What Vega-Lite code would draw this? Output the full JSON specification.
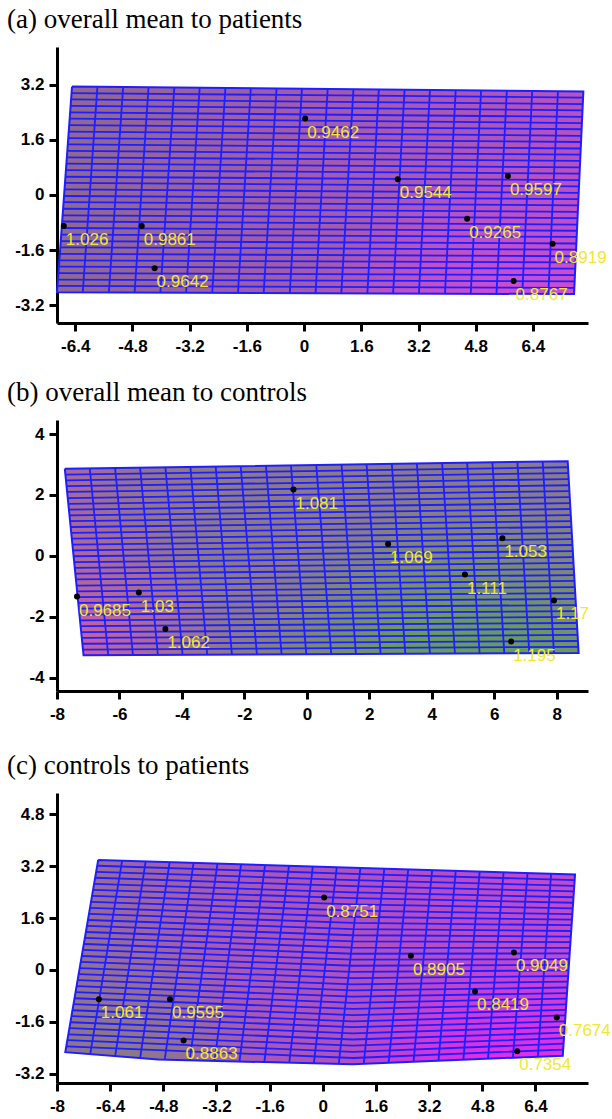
{
  "$schema": "https://vega.github.io/schema/vega-lite/v6.json",
  "padding": {"left": 7, "top": 6, "right": 0, "bottom": 0},
  "background": "white",
  "config": {
    "view": {"stroke": null},
    "axis": {"domainColor": "black", "domainWidth": 3, "tickColor": "black", "tickWidth": 3, "tickSize": 8, "labelFont": "Liberation Sans", "labelFontWeight": "bold", "labelFontSize": 17, "labelColor": "black", "grid": false, "labelPadding": 5, "labelOverlap": false, "labelFlush": false, "labelBound": false},
    "axisX": {"labelPadding": 7},
    "title": {"font": "Liberation Serif", "fontSize": 27, "fontWeight": "normal", "color": "black", "anchor": "start", "frame": "group", "dx": -50, "offset": 13, "baseline": "alphabetic"}
  },
  "datasets": {
    "a_out": [
      {"x": -6.49, "y": 3.15, "o": 0}, {"x": 7.81, "y": 3.01, "o": 1}, {"x": 7.55, "y": -2.88, "o": 2}, {"x": -6.91, "y": -2.83, "o": 3}, {"x": -6.49, "y": 3.15, "o": 4}
    ],
    "a_v": [
      {"x": -5.78, "y": 3.14, "x2": -6.19, "y2": -2.83}, {"x": -5.06, "y": 3.14, "x2": -5.46, "y2": -2.84}, {"x": -4.35, "y": 3.13, "x2": -4.74, "y2": -2.84}, {"x": -3.63, "y": 3.12, "x2": -4.02, "y2": -2.84}, {"x": -2.92, "y": 3.12, "x2": -3.30, "y2": -2.84}, {"x": -2.20, "y": 3.11, "x2": -2.57, "y2": -2.85}, {"x": -1.49, "y": 3.10, "x2": -1.85, "y2": -2.85}, {"x": -0.77, "y": 3.09, "x2": -1.13, "y2": -2.85}, {"x": -0.06, "y": 3.09, "x2": -0.40, "y2": -2.85}, {"x": 0.66, "y": 3.08, "x2": 0.32, "y2": -2.86}, {"x": 1.38, "y": 3.07, "x2": 1.04, "y2": -2.86}, {"x": 2.09, "y": 3.07, "x2": 1.77, "y2": -2.86}, {"x": 2.81, "y": 3.06, "x2": 2.49, "y2": -2.86}, {"x": 3.52, "y": 3.05, "x2": 3.21, "y2": -2.87}, {"x": 4.24, "y": 3.05, "x2": 3.94, "y2": -2.87}, {"x": 4.95, "y": 3.04, "x2": 4.66, "y2": -2.87}, {"x": 5.67, "y": 3.03, "x2": 5.38, "y2": -2.87}, {"x": 6.38, "y": 3.02, "x2": 6.10, "y2": -2.88}, {"x": 7.10, "y": 3.02, "x2": 6.83, "y2": -2.88}
    ],
    "a_h": [
      {"x": -6.50, "y": 2.96, "x2": 7.80, "y2": 2.83}, {"x": -6.52, "y": 2.78, "x2": 7.79, "y2": 2.64}, {"x": -6.53, "y": 2.59, "x2": 7.79, "y2": 2.46}, {"x": -6.54, "y": 2.40, "x2": 7.78, "y2": 2.27}, {"x": -6.56, "y": 2.22, "x2": 7.77, "y2": 2.09}, {"x": -6.57, "y": 2.03, "x2": 7.76, "y2": 1.91}, {"x": -6.58, "y": 1.84, "x2": 7.75, "y2": 1.72}, {"x": -6.60, "y": 1.65, "x2": 7.75, "y2": 1.54}, {"x": -6.61, "y": 1.47, "x2": 7.74, "y2": 1.35}, {"x": -6.62, "y": 1.28, "x2": 7.73, "y2": 1.17}, {"x": -6.63, "y": 1.09, "x2": 7.72, "y2": 0.99}, {"x": -6.65, "y": 0.91, "x2": 7.71, "y2": 0.80}, {"x": -6.66, "y": 0.72, "x2": 7.70, "y2": 0.62}, {"x": -6.67, "y": 0.53, "x2": 7.70, "y2": 0.43}, {"x": -6.69, "y": 0.35, "x2": 7.69, "y2": 0.25}, {"x": -6.70, "y": 0.16, "x2": 7.68, "y2": 0.06}, {"x": -6.71, "y": -0.03, "x2": 7.67, "y2": -0.12}, {"x": -6.73, "y": -0.21, "x2": 7.66, "y2": -0.30}, {"x": -6.74, "y": -0.40, "x2": 7.66, "y2": -0.49}, {"x": -6.75, "y": -0.59, "x2": 7.65, "y2": -0.67}, {"x": -6.77, "y": -0.77, "x2": 7.64, "y2": -0.86}, {"x": -6.78, "y": -0.96, "x2": 7.63, "y2": -1.04}, {"x": -6.79, "y": -1.15, "x2": 7.62, "y2": -1.22}, {"x": -6.80, "y": -1.34, "x2": 7.62, "y2": -1.41}, {"x": -6.82, "y": -1.52, "x2": 7.61, "y2": -1.59}, {"x": -6.83, "y": -1.71, "x2": 7.60, "y2": -1.78}, {"x": -6.84, "y": -1.90, "x2": 7.59, "y2": -1.96}, {"x": -6.86, "y": -2.08, "x2": 7.58, "y2": -2.14}, {"x": -6.87, "y": -2.27, "x2": 7.57, "y2": -2.33}, {"x": -6.88, "y": -2.46, "x2": 7.57, "y2": -2.51}, {"x": -6.90, "y": -2.64, "x2": 7.56, "y2": -2.70}
    ],
    "a_p": [
      {"x": 0.03, "y": 2.22, "t": "0.9462"}, {"x": 2.62, "y": 0.46, "t": "0.9544"}, {"x": 5.70, "y": 0.55, "t": "0.9597"}, {"x": 4.56, "y": -0.69, "t": "0.9265"}, {"x": 6.95, "y": -1.42, "t": "0.8919"}, {"x": 5.86, "y": -2.50, "t": "0.8767"}, {"x": -6.72, "y": -0.90, "t": "1.026"}, {"x": -4.54, "y": -0.90, "t": "0.9861"}, {"x": -4.18, "y": -2.13, "t": "0.9642"}
    ],
    "b_out": [
      {"x": -7.75, "y": 2.86, "o": 0}, {"x": 8.35, "y": 3.11, "o": 1}, {"x": 8.70, "y": -3.18, "o": 2}, {"x": -7.15, "y": -3.26, "o": 3}, {"x": -7.75, "y": 2.86, "o": 4}
    ],
    "b_v": [
      {"x": -6.95, "y": 2.87, "x2": -6.36, "y2": -3.26}, {"x": -6.14, "y": 2.89, "x2": -5.57, "y2": -3.25}, {"x": -5.34, "y": 2.90, "x2": -4.77, "y2": -3.25}, {"x": -4.53, "y": 2.91, "x2": -3.98, "y2": -3.24}, {"x": -3.73, "y": 2.92, "x2": -3.19, "y2": -3.24}, {"x": -2.92, "y": 2.94, "x2": -2.40, "y2": -3.24}, {"x": -2.12, "y": 2.95, "x2": -1.60, "y2": -3.23}, {"x": -1.31, "y": 2.96, "x2": -0.81, "y2": -3.23}, {"x": -0.51, "y": 2.97, "x2": -0.02, "y2": -3.22}, {"x": 0.30, "y": 2.99, "x2": 0.78, "y2": -3.22}, {"x": 1.11, "y": 3.00, "x2": 1.57, "y2": -3.22}, {"x": 1.91, "y": 3.01, "x2": 2.36, "y2": -3.21}, {"x": 2.72, "y": 3.02, "x2": 3.15, "y2": -3.21}, {"x": 3.52, "y": 3.04, "x2": 3.94, "y2": -3.20}, {"x": 4.33, "y": 3.05, "x2": 4.74, "y2": -3.20}, {"x": 5.13, "y": 3.06, "x2": 5.53, "y2": -3.20}, {"x": 5.94, "y": 3.07, "x2": 6.32, "y2": -3.19}, {"x": 6.74, "y": 3.09, "x2": 7.12, "y2": -3.19}, {"x": 7.55, "y": 3.10, "x2": 7.91, "y2": -3.18}
    ],
    "b_h": [
      {"x": -7.73, "y": 2.67, "x2": 8.36, "y2": 2.91}, {"x": -7.71, "y": 2.48, "x2": 8.37, "y2": 2.72}, {"x": -7.69, "y": 2.29, "x2": 8.38, "y2": 2.52}, {"x": -7.68, "y": 2.10, "x2": 8.39, "y2": 2.32}, {"x": -7.66, "y": 1.90, "x2": 8.40, "y2": 2.13}, {"x": -7.64, "y": 1.71, "x2": 8.42, "y2": 1.93}, {"x": -7.62, "y": 1.52, "x2": 8.43, "y2": 1.73}, {"x": -7.60, "y": 1.33, "x2": 8.44, "y2": 1.54}, {"x": -7.58, "y": 1.14, "x2": 8.45, "y2": 1.34}, {"x": -7.56, "y": 0.95, "x2": 8.46, "y2": 1.14}, {"x": -7.54, "y": 0.76, "x2": 8.47, "y2": 0.95}, {"x": -7.53, "y": 0.57, "x2": 8.48, "y2": 0.75}, {"x": -7.51, "y": 0.37, "x2": 8.49, "y2": 0.55}, {"x": -7.49, "y": 0.18, "x2": 8.50, "y2": 0.36}, {"x": -7.47, "y": -0.01, "x2": 8.51, "y2": 0.16}, {"x": -7.45, "y": -0.20, "x2": 8.52, "y2": -0.04}, {"x": -7.43, "y": -0.39, "x2": 8.54, "y2": -0.23}, {"x": -7.41, "y": -0.58, "x2": 8.55, "y2": -0.43}, {"x": -7.39, "y": -0.77, "x2": 8.56, "y2": -0.63}, {"x": -7.38, "y": -0.97, "x2": 8.57, "y2": -0.82}, {"x": -7.36, "y": -1.16, "x2": 8.58, "y2": -1.02}, {"x": -7.34, "y": -1.35, "x2": 8.59, "y2": -1.22}, {"x": -7.32, "y": -1.54, "x2": 8.60, "y2": -1.41}, {"x": -7.30, "y": -1.73, "x2": 8.61, "y2": -1.61}, {"x": -7.28, "y": -1.92, "x2": 8.62, "y2": -1.81}, {"x": -7.26, "y": -2.11, "x2": 8.63, "y2": -2.00}, {"x": -7.24, "y": -2.30, "x2": 8.64, "y2": -2.20}, {"x": -7.23, "y": -2.50, "x2": 8.66, "y2": -2.39}, {"x": -7.21, "y": -2.69, "x2": 8.67, "y2": -2.59}, {"x": -7.19, "y": -2.88, "x2": 8.68, "y2": -2.79}, {"x": -7.17, "y": -3.07, "x2": 8.69, "y2": -2.98}
    ],
    "b_p": [
      {"x": -0.43, "y": 2.18, "t": "1.081"}, {"x": 2.60, "y": 0.39, "t": "1.069"}, {"x": 6.26, "y": 0.58, "t": "1.053"}, {"x": 5.06, "y": -0.61, "t": "1.111"}, {"x": 7.91, "y": -1.46, "t": "1.17"}, {"x": 6.54, "y": -2.81, "t": "1.195"}, {"x": -7.36, "y": -1.33, "t": "0.9685"}, {"x": -5.38, "y": -1.20, "t": "1.03"}, {"x": -4.53, "y": -2.40, "t": "1.062"}
    ],
    "c_out": [
      {"x": -6.76, "y": 3.39, "o": 0}, {"x": 7.59, "y": 2.94, "o": 1}, {"x": 7.22, "y": -2.64, "o": 2}, {"x": 0.90, "y": -2.90, "o": 3}, {"x": -4.95, "y": -2.76, "o": 4}, {"x": -7.75, "y": -2.53, "o": 5}, {"x": -6.76, "y": 3.39, "o": 6}
    ],
    "c_v": [
      {"x": -6.04, "y": 3.37, "x2": -7.00, "y2": -2.59}, {"x": -5.33, "y": 3.35, "x2": -6.25, "y2": -2.65}, {"x": -4.61, "y": 3.32, "x2": -5.50, "y2": -2.72}, {"x": -3.89, "y": 3.30, "x2": -4.76, "y2": -2.77}, {"x": -3.17, "y": 3.28, "x2": -4.01, "y2": -2.78}, {"x": -2.46, "y": 3.26, "x2": -3.26, "y2": -2.80}, {"x": -1.74, "y": 3.23, "x2": -2.51, "y2": -2.82}, {"x": -1.02, "y": 3.21, "x2": -1.76, "y2": -2.83}, {"x": -0.30, "y": 3.19, "x2": -1.01, "y2": -2.85}, {"x": 0.42, "y": 3.17, "x2": -0.27, "y2": -2.87}, {"x": 1.13, "y": 3.14, "x2": 0.48, "y2": -2.89}, {"x": 1.85, "y": 3.12, "x2": 1.23, "y2": -2.89}, {"x": 2.57, "y": 3.10, "x2": 1.98, "y2": -2.86}, {"x": 3.29, "y": 3.08, "x2": 2.73, "y2": -2.82}, {"x": 4.00, "y": 3.05, "x2": 3.48, "y2": -2.79}, {"x": 4.72, "y": 3.03, "x2": 4.23, "y2": -2.76}, {"x": 5.44, "y": 3.01, "x2": 4.97, "y2": -2.73}, {"x": 6.16, "y": 2.99, "x2": 5.72, "y2": -2.70}, {"x": 6.87, "y": 2.96, "x2": 6.47, "y2": -2.67}
    ],
    "c_h": [
      {"id": 1, "x": -6.79, "y": 3.21}, {"id": 1, "x": 0.9, "y": 2.96}, {"id": 1, "x": 7.58, "y": 2.77},
      {"id": 2, "x": -6.82, "y": 3.02}, {"id": 2, "x": 0.9, "y": 2.77}, {"id": 2, "x": 7.57, "y": 2.59},
      {"id": 3, "x": -6.85, "y": 2.84}, {"id": 3, "x": 0.9, "y": 2.58}, {"id": 3, "x": 7.56, "y": 2.42},
      {"id": 4, "x": -6.88, "y": 2.65}, {"id": 4, "x": 0.9, "y": 2.39}, {"id": 4, "x": 7.54, "y": 2.24},
      {"id": 5, "x": -6.91, "y": 2.47}, {"id": 5, "x": 0.9, "y": 2.21}, {"id": 5, "x": 7.53, "y": 2.07},
      {"id": 6, "x": -6.95, "y": 2.28}, {"id": 6, "x": 0.9, "y": 2.02}, {"id": 6, "x": 7.52, "y": 1.90},
      {"id": 7, "x": -6.98, "y": 2.10}, {"id": 7, "x": 0.9, "y": 1.83}, {"id": 7, "x": 7.51, "y": 1.72},
      {"id": 8, "x": -7.01, "y": 1.91}, {"id": 8, "x": 0.9, "y": 1.64}, {"id": 8, "x": 7.50, "y": 1.55},
      {"id": 9, "x": -7.04, "y": 1.73}, {"id": 9, "x": 0.9, "y": 1.45}, {"id": 9, "x": 7.49, "y": 1.38},
      {"id": 10, "x": -7.07, "y": 1.54}, {"id": 10, "x": 0.9, "y": 1.26}, {"id": 10, "x": 7.47, "y": 1.20},
      {"id": 11, "x": -7.10, "y": 1.36}, {"id": 11, "x": 0.9, "y": 1.07}, {"id": 11, "x": 7.46, "y": 1.03},
      {"id": 12, "x": -7.13, "y": 1.17}, {"id": 12, "x": 0.9, "y": 0.88}, {"id": 12, "x": 7.45, "y": 0.86},
      {"id": 13, "x": -7.16, "y": 0.99}, {"id": 13, "x": 0.9, "y": 0.69}, {"id": 13, "x": 7.44, "y": 0.68},
      {"id": 14, "x": -7.19, "y": 0.80}, {"id": 14, "x": 0.9, "y": 0.50}, {"id": 14, "x": 7.43, "y": 0.51},
      {"id": 15, "x": -7.22, "y": 0.62}, {"id": 15, "x": 0.9, "y": 0.32}, {"id": 15, "x": 7.42, "y": 0.33},
      {"id": 16, "x": -7.25, "y": 0.43}, {"id": 16, "x": 0.9, "y": 0.13}, {"id": 16, "x": 7.41, "y": 0.16},
      {"id": 17, "x": -7.29, "y": 0.25}, {"id": 17, "x": 0.9, "y": -0.06}, {"id": 17, "x": 7.39, "y": -0.01},
      {"id": 18, "x": -7.32, "y": 0.06}, {"id": 18, "x": 0.9, "y": -0.25}, {"id": 18, "x": 7.38, "y": -0.19},
      {"id": 19, "x": -7.35, "y": -0.13}, {"id": 19, "x": 0.9, "y": -0.44}, {"id": 19, "x": 7.37, "y": -0.36},
      {"id": 20, "x": -7.38, "y": -0.31}, {"id": 20, "x": 0.9, "y": -0.63}, {"id": 20, "x": 7.36, "y": -0.54},
      {"id": 21, "x": -7.41, "y": -0.50}, {"id": 21, "x": 0.9, "y": -0.82}, {"id": 21, "x": 7.35, "y": -0.71},
      {"id": 22, "x": -7.44, "y": -0.68}, {"id": 22, "x": 0.9, "y": -1.01}, {"id": 22, "x": 7.34, "y": -0.88},
      {"id": 23, "x": -7.47, "y": -0.87}, {"id": 23, "x": 0.9, "y": -1.20}, {"id": 23, "x": 7.32, "y": -1.06},
      {"id": 24, "x": -7.50, "y": -1.05}, {"id": 24, "x": 0.9, "y": -1.39}, {"id": 24, "x": 7.31, "y": -1.23},
      {"id": 25, "x": -7.53, "y": -1.24}, {"id": 25, "x": 0.9, "y": -1.58}, {"id": 25, "x": 7.30, "y": -1.40},
      {"id": 26, "x": -7.56, "y": -1.42}, {"id": 26, "x": 0.9, "y": -1.76}, {"id": 26, "x": 7.29, "y": -1.58},
      {"id": 27, "x": -7.59, "y": -1.61}, {"id": 27, "x": 0.9, "y": -1.95}, {"id": 27, "x": 7.28, "y": -1.75},
      {"id": 28, "x": -7.62, "y": -1.79}, {"id": 28, "x": 0.9, "y": -2.14}, {"id": 28, "x": 7.27, "y": -1.93},
      {"id": 29, "x": -7.66, "y": -1.98}, {"id": 29, "x": 0.9, "y": -2.33}, {"id": 29, "x": 7.25, "y": -2.10},
      {"id": 30, "x": -7.69, "y": -2.16}, {"id": 30, "x": 0.9, "y": -2.52}, {"id": 30, "x": 7.24, "y": -2.27},
      {"id": 31, "x": -7.72, "y": -2.35}, {"id": 31, "x": 0.9, "y": -2.71}, {"id": 31, "x": 7.23, "y": -2.45}
    ],
    "c_p": [
      {"x": 0.04, "y": 2.23, "t": "0.8751"}, {"x": 2.65, "y": 0.44, "t": "0.8905"}, {"x": 5.75, "y": 0.54, "t": "0.9049"}, {"x": 4.58, "y": -0.66, "t": "0.8419"}, {"x": 7.04, "y": -1.46, "t": "0.7674"}, {"x": 5.85, "y": -2.50, "t": "0.7354"}, {"x": -6.74, "y": -0.90, "t": "1.061"}, {"x": -4.60, "y": -0.90, "t": "0.9595"}, {"x": -4.19, "y": -2.17, "t": "0.8863"}
    ]
  },
  "spacing": 30,
  "vconcat": [
    {
      "spacing": 25,
      "vconcat": [
        {
          "width": 531, "height": 276,
          "title": {"text": "(a) overall mean to patients"},
          "encoding": {
            "x": {"field": "x", "type": "quantitative", "title": null, "scale": {"domain": [-6.91, 7.94], "nice": false, "zero": false}, "axis": {"values": [-6.4, -4.8, -3.2, -1.6, 0, 1.6, 3.2, 4.8, 6.4], "labelExpr": "datum.value + ''"}},
            "y": {"field": "y", "type": "quantitative", "title": null, "scale": {"domain": [-3.72, 4.30], "nice": false, "zero": false}, "axis": {"values": [-3.2, -1.6, 0, 1.6, 3.2], "labelExpr": "datum.value + ''"}}
          },
          "layer": [
            {"data": {"name": "a_out"}, "mark": {"type": "line", "strokeWidth": 0, "fill": {"gradient": "linear", "x1": 0, "y1": 0, "x2": 1, "y2": 0, "stops": [{"offset": 0, "color": "#8e6a8e"}, {"offset": 0.35, "color": "#9e5ea4"}, {"offset": 0.7, "color": "#aa58b2"}, {"offset": 1, "color": "#b652be"}]}}, "encoding": {"order": {"field": "o", "type": "quantitative"}}},
            {"data": {"name": "a_out"}, "mark": {"type": "line", "strokeWidth": 0, "fill": {"gradient": "radial", "x1": 0.88, "y1": 0.88, "r1": 0, "x2": 0.88, "y2": 0.88, "r2": 0.45, "stops": [{"offset": 0, "color": "rgba(228,70,228,0.9)"}, {"offset": 1, "color": "rgba(228,70,228,0)"}]}}, "encoding": {"order": {"field": "o", "type": "quantitative"}}},
            {"data": {"name": "a_v"}, "mark": {"type": "rule", "color": "#1e1eff", "strokeWidth": 1.8}, "encoding": {"x2": {"field": "x2"}, "y2": {"field": "y2"}}},
            {"data": {"name": "a_h"}, "mark": {"type": "rule", "color": "#1e1eff", "strokeWidth": 1.8}, "encoding": {"x2": {"field": "x2"}, "y2": {"field": "y2"}}},
            {"data": {"name": "a_out"}, "mark": {"type": "line", "color": "#1e1eff", "strokeWidth": 2}, "encoding": {"order": {"field": "o", "type": "quantitative"}}},
            {"data": {"name": "a_p"}, "mark": {"type": "point", "filled": true, "color": "black", "size": 36, "opacity": 1}},
            {"data": {"name": "a_p"}, "mark": {"type": "text", "align": "left", "baseline": "alphabetic", "dx": 2, "dy": 19, "font": "Liberation Sans", "fontSize": 17, "color": "#f0e830"}, "encoding": {"text": {"field": "t", "type": "nominal"}}}
          ]
        },
        {
          "width": 531, "height": 271,
          "title": {"text": "(b) overall mean to controls"},
          "encoding": {
            "x": {"field": "x", "type": "quantitative", "title": null, "scale": {"domain": [-8, 9], "nice": false, "zero": false}, "axis": {"values": [-8, -6, -4, -2, 0, 2, 4, 6, 8], "labelExpr": "datum.value + ''"}},
            "y": {"field": "y", "type": "quantitative", "title": null, "scale": {"domain": [-4.43, 4.46], "nice": false, "zero": false}, "axis": {"values": [-4, -2, 0, 2, 4], "labelExpr": "datum.value + ''"}}
          },
          "layer": [
            {"data": {"name": "b_out"}, "mark": {"type": "line", "strokeWidth": 0, "fill": {"gradient": "linear", "x1": 0, "y1": 0, "x2": 1, "y2": 0, "stops": [{"offset": 0, "color": "#a8689a"}, {"offset": 0.12, "color": "#96728c"}, {"offset": 0.3, "color": "#8c7a86"}, {"offset": 1, "color": "#877e84"}]}}, "encoding": {"order": {"field": "o", "type": "quantitative"}}},
            {"data": {"name": "b_out"}, "mark": {"type": "line", "strokeWidth": 0, "fill": {"gradient": "radial", "x1": 0.03, "y1": 0.7, "r1": 0, "x2": 0.03, "y2": 0.7, "r2": 0.3, "stops": [{"offset": 0, "color": "rgba(205,92,165,1)"}, {"offset": 0.5, "color": "rgba(190,100,155,0.6)"}, {"offset": 1, "color": "rgba(190,100,155,0)"}]}}, "encoding": {"order": {"field": "o", "type": "quantitative"}}},
            {"data": {"name": "b_out"}, "mark": {"type": "line", "strokeWidth": 0, "fill": {"gradient": "radial", "x1": 0.79, "y1": 0.86, "r1": 0, "x2": 0.79, "y2": 0.86, "r2": 0.5, "stops": [{"offset": 0, "color": "rgba(90,170,70,1)"}, {"offset": 0.45, "color": "rgba(98,162,80,0.85)"}, {"offset": 1, "color": "rgba(115,150,95,0)"}]}}, "encoding": {"order": {"field": "o", "type": "quantitative"}}},
            {"data": {"name": "b_v"}, "mark": {"type": "rule", "color": "#1e1eff", "strokeWidth": 1.8}, "encoding": {"x2": {"field": "x2"}, "y2": {"field": "y2"}}},
            {"data": {"name": "b_h"}, "mark": {"type": "rule", "color": "#1e1eff", "strokeWidth": 1.8}, "encoding": {"x2": {"field": "x2"}, "y2": {"field": "y2"}}},
            {"data": {"name": "b_out"}, "mark": {"type": "line", "color": "#1e1eff", "strokeWidth": 2}, "encoding": {"order": {"field": "o", "type": "quantitative"}}},
            {"data": {"name": "b_p"}, "mark": {"type": "point", "filled": true, "color": "black", "size": 36, "opacity": 1}},
            {"data": {"name": "b_p"}, "mark": {"type": "text", "align": "left", "baseline": "alphabetic", "dx": 2, "dy": 19, "font": "Liberation Sans", "fontSize": 17, "color": "#f0e830"}, "encoding": {"text": {"field": "t", "type": "nominal"}}}
          ]
        }
      ]
    },
    {
      "width": 531, "height": 290,
      "title": {"text": "(c) controls to patients"},
      "encoding": {
        "x": {"field": "x", "type": "quantitative", "title": null, "scale": {"domain": [-8, 7.98], "nice": false, "zero": false}, "axis": {"values": [-8, -6.4, -4.8, -3.2, -1.6, 0, 1.6, 3.2, 4.8, 6.4], "labelExpr": "datum.value + ''"}},
        "y": {"field": "y", "type": "quantitative", "title": null, "scale": {"domain": [-3.48, 5.45], "nice": false, "zero": false}, "axis": {"values": [-3.2, -1.6, 0, 1.6, 3.2, 4.8], "labelExpr": "datum.value + ''"}}
      },
      "layer": [
        {"data": {"name": "c_out"}, "mark": {"type": "line", "strokeWidth": 0, "fill": {"gradient": "linear", "x1": 0, "y1": 0, "x2": 1, "y2": 0, "stops": [{"offset": 0, "color": "#927090"}, {"offset": 0.3, "color": "#a85aae"}, {"offset": 0.65, "color": "#b44ec0"}, {"offset": 1, "color": "#c24ac8"}]}}, "encoding": {"order": {"field": "o", "type": "quantitative"}}},
        {"data": {"name": "c_out"}, "mark": {"type": "line", "strokeWidth": 0, "fill": {"gradient": "radial", "x1": 0.12, "y1": 0.72, "r1": 0, "x2": 0.12, "y2": 0.72, "r2": 0.28, "stops": [{"offset": 0, "color": "rgba(135,125,130,0.95)"}, {"offset": 1, "color": "rgba(135,125,130,0)"}]}}, "encoding": {"order": {"field": "o", "type": "quantitative"}}},
        {"data": {"name": "c_out"}, "mark": {"type": "line", "strokeWidth": 0, "fill": {"gradient": "radial", "x1": 0.88, "y1": 0.85, "r1": 0, "x2": 0.88, "y2": 0.85, "r2": 0.38, "stops": [{"offset": 0, "color": "rgba(255,20,250,1)"}, {"offset": 1, "color": "rgba(255,20,250,0)"}]}}, "encoding": {"order": {"field": "o", "type": "quantitative"}}},
        {"data": {"name": "c_v"}, "mark": {"type": "rule", "color": "#1e1eff", "strokeWidth": 1.8}, "encoding": {"x2": {"field": "x2"}, "y2": {"field": "y2"}}},
        {"data": {"name": "c_h"}, "mark": {"type": "line", "color": "#1e1eff", "strokeWidth": 1.8}, "encoding": {"detail": {"field": "id", "type": "nominal"}}},
        {"data": {"name": "c_out"}, "mark": {"type": "line", "color": "#1e1eff", "strokeWidth": 2}, "encoding": {"order": {"field": "o", "type": "quantitative"}}},
        {"data": {"name": "c_p"}, "mark": {"type": "point", "filled": true, "color": "black", "size": 36, "opacity": 1}},
        {"data": {"name": "c_p"}, "mark": {"type": "text", "align": "left", "baseline": "alphabetic", "dx": 2, "dy": 19, "font": "Liberation Sans", "fontSize": 17, "color": "#f0e830"}, "encoding": {"text": {"field": "t", "type": "nominal"}}}
      ]
    }
  ]
}
